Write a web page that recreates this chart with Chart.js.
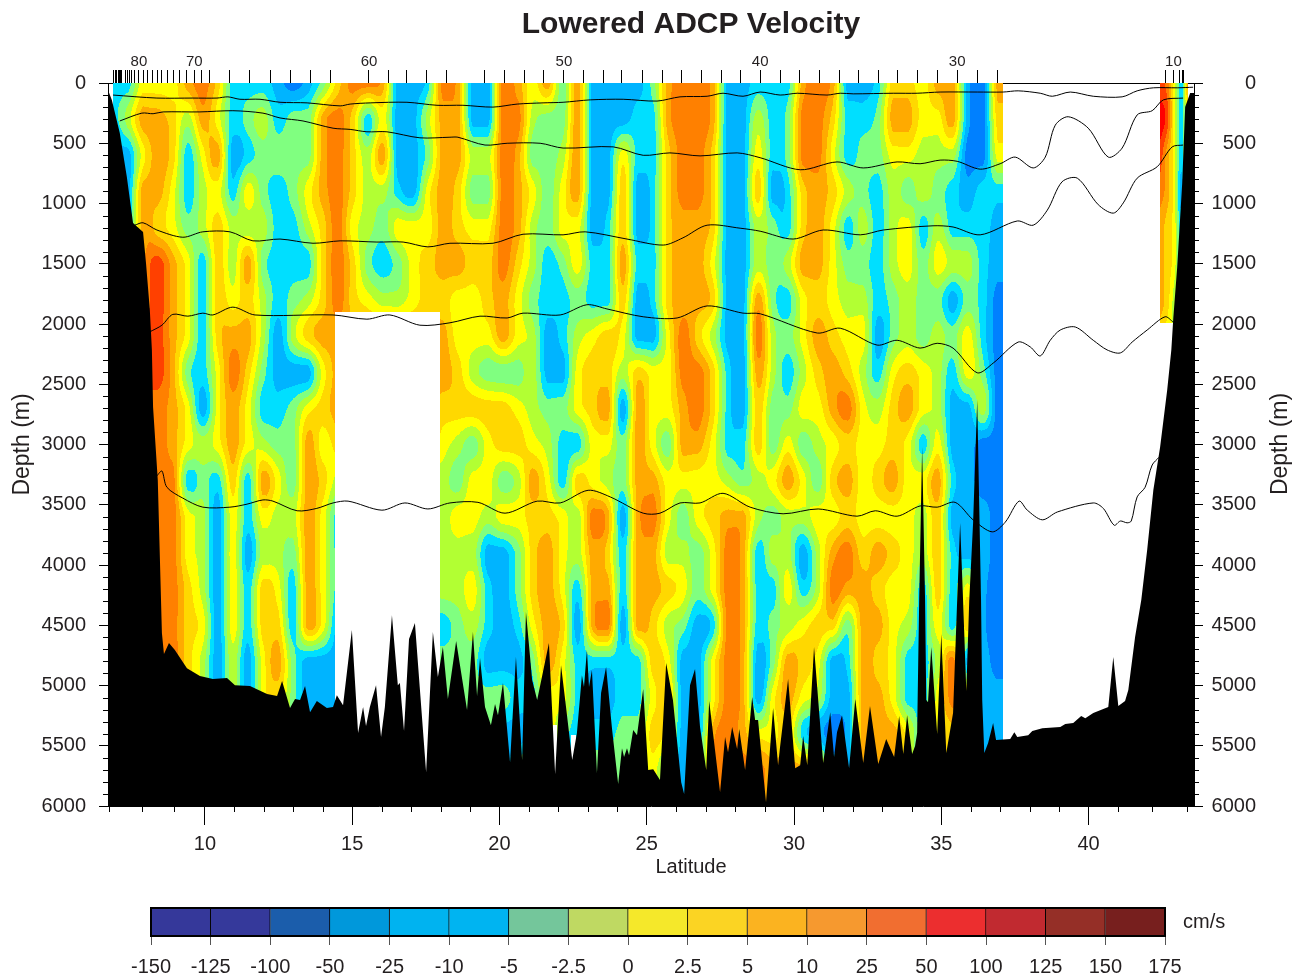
<!DOCTYPE html>
<html>
<head>
<meta charset="utf-8">
<title>Lowered ADCP Velocity</title>
<script src="https://cdn.jsdelivr.net/npm/chart.js@4"></script>
<style>
    body { margin: 0; background: #fff; }
    canvas { position: absolute; left: 0; }
    #sectionChart { top: 0; }
    #colorbarChart { top: 880px; }
</style>
</head>
<body>
<canvas id="sectionChart" width="1293" height="880"></canvas>
<canvas id="colorbarChart" width="1293" height="95"></canvas>
<script>
const fontFamily = '"Liberation Sans", Arial, sans-serif';
const textColor = '#231f20';

// Colour classes of the section, from deep blue (0) to red (10)
const bandColors = ['#0080ff', '#00b4ff', '#00dfff', '#80ff80', '#b2ff33', '#ffff00', '#ffd800', '#ffaa00', '#ff8000', '#ff4000', '#ff0000'];

// Velocity field, one class per cell
const fieldLats = [6.88, 7.39, 7.89, 8.40, 8.91, 9.42, 9.93, 10.44, 10.95, 11.46, 11.97, 12.48, 12.99, 13.50, 14.01, 14.52, 15.02, 15.53, 16.04, 16.55, 17.06, 17.57, 18.08, 18.59, 19.10, 19.61, 20.12, 20.63, 21.13, 21.64, 22.15, 22.66, 23.17, 23.68, 24.19, 24.70, 25.21, 25.72, 26.23, 26.74, 27.25, 27.76, 28.26, 28.77, 29.28, 29.79, 30.30, 30.81, 31.32, 31.83, 32.34, 32.85, 33.36, 33.87, 34.38, 34.89, 35.39, 35.90, 36.41, 36.92];
const fieldDepths = [0, 300, 600, 900, 1200, 1500, 1800, 2100, 2400, 2700, 3000, 3300, 3600, 3900, 4200, 4500, 4800, 5100, 5400, 5700, 6000];
const fieldRows = [
    [2,2,5,5,5,7,8,6,2,2, 2,1,0,1,3,6,8,8,7,1, 1,2,8,7,1,1,8,7,5,7, 3,7,1,1,1,1,3,7,8,8, 7,1,1,2,2,2,7,8,7,1, 1,2,6,6,5,7,7,1,0,7],
    [2,4,7,7,6,4,7,5,2,3, 4,2,3,3,7,8,6,2,5,1, 1,4,7,7,1,1,8,8,4,3, 3,7,1,1,1,2,2,7,8,8, 7,1,1,4,2,3,8,8,6,2, 2,3,7,7,5,5,7,1,0,6],
    [1,1,5,7,6,2,5,7,1,2, 3,3,3,3,7,8,6,4,7,1, 1,3,7,7,4,4,8,7,3,3, 4,7,1,1,5,2,2,6,8,8, 6,1,1,5,2,3,8,8,5,2, 3,3,5,5,4,4,4,0,0,5],
    [1,1,7,7,5,2,4,5,2,5, 3,2,3,5,7,8,6,4,4,2, 1,5,7,6,3,3,8,7,5,3, 5,7,1,1,6,1,2,6,8,8, 6,1,1,6,1,2,6,7,6,4, 3,2,4,3,4,3,2,1,2,2],
    [1,1,7,6,5,3,4,6,4,4, 4,2,2,4,6,8,5,4,3,5, 5,5,7,6,5,5,8,7,4,3, 5,5,1,2,6,1,2,6,7,7, 6,1,1,4,3,2,6,7,5,2, 4,2,4,5,2,4,2,2,2,1],
    [1,1,7,9,7,5,2,6,4,7, 3,2,2,2,6,8,6,3,2,3, 5,6,7,7,6,6,8,6,4,2, 3,5,2,2,7,2,2,6,7,7, 5,1,1,4,3,4,7,7,5,3, 3,2,4,5,3,5,4,4,2,1],
    [1,1,7,9,7,5,2,6,5,6, 4,2,3,4,6,8,6,5,4,4, 5,6,6,5,5,6,7,5,3,2, 2,3,2,2,6,1,2,6,7,7, 6,1,1,7,3,2,5,6,5,4, 4,2,3,4,3,3,1,3,2,0],
    [1,1,8,9,7,5,2,6,7,7, 4,1,4,6,7,7,7,7,7,7, 7,7,7,5,5,5,7,5,4,1, 2,4,5,6,5,1,1,5,8,6, 4,1,1,8,4,3,5,7,6,5, 5,1,3,4,3,4,3,5,2,0],
    [1,1,8,9,7,3,2,5,8,6, 3,1,1,1,5,7,7,7,7,7, 7,7,7,6,4,3,3,3,4,1, 1,5,6,6,4,6,5,5,8,8, 6,2,1,7,4,2,4,6,7,6, 4,2,5,6,5,4,2,5,3,0],
    [1,1,8,8,7,5,1,5,7,5, 2,2,3,5,6,7,7,7,7,7, 7,7,6,6,6,6,6,5,4,3, 3,5,6,7,1,7,5,5,7,8, 6,2,1,6,3,3,5,5,7,8, 5,4,6,7,5,4,1,1,4,0],
    [1,1,8,8,7,5,4,5,7,5, 4,3,3,7,5,6,6,6,6,6, 6,6,5,4,3,5,6,6,5,4, 2,2,5,5,3,7,5,3,7,7, 5,2,2,6,3,5,3,4,5,6, 5,5,6,5,2,5,1,1,0,0],
    [1,1,8,8,8,2,3,2,6,2, 7,5,3,7,6,4,4,4,4,4, 4,4,4,3,5,5,3,4,7,5, 2,6,5,4,3,7,7,5,5,5, 5,4,3,4,5,7,5,3,6,7, 5,6,7,5,5,7,2,1,0,0],
    [1,1,8,8,8,5,4,1,5,2, 5,4,4,7,5,2,3,3,3,4, 4,4,4,5,5,4,5,5,6,6, 5,4,8,7,1,7,8,5,3,5, 6,7,7,4,3,4,4,5,5,6, 5,5,5,5,4,6,1,1,1,0],
    [1,1,8,8,8,5,4,1,5,1, 4,4,3,7,5,2,2,2,3,3, 3,3,4,4,4,1,1,3,6,7, 5,4,7,6,2,7,7,4,4,3, 5,8,7,2,4,4,1,4,7,8, 6,7,6,5,4,6,2,1,1,0],
    [1,1,8,8,8,6,4,1,5,2, 6,5,2,7,5,2,2,2,2,2, 2,3,4,4,5,2,1,3,6,7, 5,2,7,7,2,7,7,6,5,3, 5,8,7,2,2,5,2,4,8,7, 7,6,5,5,2,6,2,5,1,0],
    [1,1,8,8,8,6,5,1,5,2, 6,6,2,7,5,1,1,1,1,2, 2,2,2,3,4,2,1,2,5,7, 6,1,7,8,1,7,6,4,3,1, 2,8,7,2,3,4,5,6,6,3, 7,7,5,4,2,5,2,6,1,0],
    [1,1,8,8,8,6,4,1,4,1, 5,7,3,1,1,1,1,1,1,2, 3,3,3,3,3,1,1,1,3,7, 5,2,2,2,2,2,6,5,1,1, 5,8,7,1,3,7,6,5,1,2, 7,6,5,2,2,4,8,1,1,0],
    [1,1,8,8,8,6,4,1,4,1, 5,6,3,1,1,1,1,1,1,2, 3,3,3,3,3,3,3,2,2,5, 5,2,1,1,2,2,5,6,1,1, 5,8,7,1,5,7,5,4,1,1, 7,7,5,2,2,5,8,6,1,1],
    [1,1,8,8,8,6,4,1,4,1, 5,6,3,1,1,1,1,1,1,2, 3,3,3,3,3,3,1,1,1,5, 3,2,2,2,3,3,6,5,1,1, 7,8,7,5,5,6,2,1,0,1, 7,7,7,5,2,5,6,5,1,1],
    [1,1,8,8,8,6,4,1,4,1, 5,6,3,1,1,1,1,1,1,2, 3,3,3,3,3,1,1,3,5,5, 2,3,3,3,3,3,5,2,1,1, 8,8,8,8,7,7,7,7,1,1, 7,7,7,5,2,5,6,5,1,1],
    [1,1,8,8,8,6,4,1,4,1, 5,6,3,1,1,1,1,1,1,2, 3,3,3,3,3,1,1,3,5,5, 2,3,3,3,3,3,5,2,1,1, 8,8,8,8,7,7,7,7,1,1, 7,7,7,5,2,5,6,5,1,1]
];
const fieldLatEnd = 37.10;

// Holes in the section (no stations)
const gapLatFrom = [14.42, 21.82, 22.43];
const gapLatTo = [17.98, 21.96, 22.60];
const gapDepthFrom = [1900, 5330, 5410];
const gapDepthTo = [6000, 5750, 5640];

// Short section next to the coast on the right
const stripLats = [42.43, 42.67, 42.91, 43.15, 43.38];
const stripDepths = [0, 300, 600, 900, 1200, 1500, 1800, 2100];
const stripRows = [
    [9, 8, 5, 2, 7],
    [10, 9, 5, 2, 5],
    [9, 7, 5, 2, 5],
    [8, 7, 5, 1, 5],
    [7, 6, 5, 2, 5],
    [7, 6, 5, 2, 5],
    [7, 6, 4, 2, 4],
    [6, 5, 4, 3, 4]
];
const stripDepthEnd = 1992;

// Sea floor
const bottomLats = [
    6.71, 6.84, 7.11, 7.35, 7.56, 7.90, 8.00, 8.13, 8.20, 8.24,
    8.40, 8.54, 8.61, 8.78, 8.98, 9.39, 9.83, 10.27, 10.75, 11.02,
    11.53, 12.11, 12.45, 12.62, 12.89, 13.06, 13.23, 13.40, 13.57, 13.80,
    14.14, 14.35, 14.48, 14.69, 14.99, 15.20, 15.37, 15.47, 15.60, 15.81,
    15.98, 16.11, 16.35, 16.55, 16.62, 16.76, 16.93, 17.13, 17.51, 17.74,
    17.91, 18.08, 18.25, 18.53, 18.90, 19.10, 19.24, 19.34, 19.51, 19.71,
    19.85, 19.95, 20.12, 20.36, 20.56, 20.77, 20.90, 21.11, 21.28, 21.68,
    21.89, 22.09, 22.26, 22.47, 22.63, 22.80, 22.87, 22.97, 23.04, 23.14,
    23.31, 23.45, 23.62, 23.82, 24.03, 24.16, 24.23, 24.33, 24.40, 24.54,
    24.67, 24.88, 25.05, 25.22, 25.45, 25.66, 25.89, 26.17, 26.27, 26.47,
    26.64, 26.81, 27.02, 27.12, 27.49, 27.66, 27.76, 27.90, 28.07, 28.14,
    28.34, 28.58, 28.68, 28.78, 29.05, 29.29, 29.46, 29.53, 29.80, 30.04,
    30.21, 30.31, 30.45, 30.68, 30.99, 31.23, 31.36, 31.46, 31.63, 31.87,
    32.08, 32.35, 32.58, 32.86, 33.13, 33.40, 33.57, 33.71, 33.84, 34.01,
    34.11, 34.18, 34.25, 34.35, 34.45, 34.49, 34.55, 34.66, 34.86, 35.00,
    35.17, 35.40, 35.54, 35.64, 35.74, 35.85, 35.95, 36.08, 36.22, 36.35,
    36.39, 36.46, 36.59, 36.76, 36.86, 37.34, 37.48, 37.58, 37.95, 38.09,
    38.43, 39.04, 39.21, 39.48, 39.75, 39.89, 40.16, 40.67, 40.84, 41.01,
    41.24, 41.35, 41.58, 41.79, 41.99, 42.20, 42.43, 42.67, 42.81, 42.88,
    43.01, 43.18, 43.28, 43.45, 43.58
];
const bottomDepths = [
    58, 141, 415, 780, 1162, 1237, 1494, 1884, 2216, 2689,
    3295, 4565, 4739, 4648, 4706, 4856, 4922, 4947, 4938, 4997,
    5005, 5071, 5088, 4963, 5187, 5113, 5121, 5005, 5221, 5129,
    5187, 5179, 5080, 5163, 4540, 5395, 5179, 5337, 5179, 4997,
    5428, 5179, 4416, 4997, 4980, 5378, 4615, 4482, 5719, 4557,
    4930, 4681, 5113, 4631, 5204, 4557, 5088, 4772, 5179, 5329,
    5154, 5246, 4980, 5636, 4764, 5619, 4391, 4955, 5121, 4648,
    5735, 4831, 5179, 5619, 5395, 4914, 5013, 4706, 5013, 4872,
    5727, 5063, 4847, 5354, 5818, 5520, 5594, 5520, 5578, 5370,
    5412, 5030, 5702, 5694, 5785, 4814, 5121, 5802, 5901, 4997,
    4864, 5345, 5702, 5129, 5885, 5428, 5553, 5345, 5528, 5362,
    5702, 5096, 5287, 5287, 5968, 5187, 5661, 5503, 4947, 5686,
    5661, 5420, 5661, 4681, 5644, 5221, 5594, 5387, 5246, 5686,
    5113, 5644, 5171, 5652, 5445, 5594, 5254, 5569, 5246, 5569,
    5503, 5395, 4291, 3021, 4291, 5121, 5138, 4681, 5403, 4573,
    5561, 5229, 4291, 3652, 4291, 5046, 4291, 3652, 2631, 4291,
    5121, 5561, 5478, 5312, 5453, 5445, 5387, 5428, 5412, 5378,
    5354, 5345, 5320, 5312, 5254, 5271, 5229, 5179, 4764, 5171,
    5129, 5038, 4598, 4291, 3876, 3378, 3021, 2548, 2216, 1942,
    1527, 830, 199, 83, 83
];

// Density surfaces, left to right, top to bottom
const lineALats = [6.88, 8.37, 9.59, 10.41, 10.78, 11.19, 11.87, 12.55, 13.47, 14.59, 14.93, 15.61, 16.86, 17.88, 18.76, 19.78, 20.60, 21.48, 22.16, 23.08, 24.20, 25.35, 26.13, 27.05, 27.59, 28.27, 28.85, 29.53, 30.11, 31.12, 31.57, 32.01, 33.37, 34.18, 34.96, 36.22, 37.10, 37.61, 38.36, 38.77, 39.38, 40.16, 41.14, 41.65, 42.20, 43.01, 43.55];
const lineADepths = [100, 125, 125, 125, 115, 135, 135, 160, 165, 190, 175, 165, 160, 185, 185, 200, 175, 165, 160, 140, 135, 150, 115, 110, 85, 110, 75, 100, 85, 100, 85, 90, 85, 85, 75, 75, 75, 65, 85, 110, 75, 110, 115, 65, 40, 40, 35];
const lineBLats = [7.11, 7.86, 8.24, 8.58, 9.83, 10.95, 11.97, 12.55, 13.33, 14.35, 14.93, 15.50, 16.18, 17.30, 18.32, 18.59, 19.51, 20.26, 21.38, 22.16, 23.86, 24.88, 25.79, 26.81, 28.07, 28.85, 30.21, 31.46, 32.35, 33.50, 34.28, 34.96, 35.54, 36.32, 37.00, 37.51, 38.12, 38.53, 38.87, 39.31, 39.99, 40.67, 41.14, 41.65, 42.16, 42.54, 43.21];
const lineBDepths = [315, 250, 255, 240, 240, 230, 250, 290, 315, 375, 385, 405, 405, 455, 450, 450, 515, 500, 500, 540, 530, 600, 580, 605, 580, 620, 720, 655, 705, 655, 670, 640, 650, 715, 670, 615, 705, 615, 350, 280, 375, 615, 540, 265, 230, 140, 125];
const lineCLats = [7.62, 7.90, 8.37, 9.25, 9.93, 10.85, 11.63, 12.55, 13.67, 14.59, 15.84, 16.73, 17.57, 18.32, 19.78, 20.80, 22.16, 22.91, 24.33, 25.56, 26.23, 27.05, 28.17, 28.85, 29.97, 30.99, 32.25, 33.03, 34.72, 35.40, 36.32, 37.58, 38.12, 38.60, 39.10, 39.62, 40.33, 40.84, 41.18, 41.65, 42.33, 42.84, 43.21];
const lineCDepths = [1180, 1160, 1220, 1280, 1235, 1235, 1310, 1295, 1330, 1310, 1320, 1320, 1360, 1330, 1330, 1255, 1260, 1235, 1295, 1345, 1285, 1180, 1205, 1230, 1295, 1220, 1260, 1220, 1185, 1195, 1260, 1145, 1180, 1055, 820, 790, 1010, 1080, 995, 790, 695, 530, 515];
const lineDLats = [8.13, 8.54, 8.91, 9.42, 9.93, 10.27, 10.95, 11.70, 14.35, 15.50, 16.28, 17.30, 18.32, 19.34, 20.26, 20.80, 22.06, 22.97, 23.65, 24.88, 26.03, 27.05, 28.27, 28.85, 30.79, 31.57, 32.82, 33.50, 34.28, 34.86, 35.40, 36.22, 36.76, 37.61, 38.02, 38.36, 38.70, 39.04, 39.55, 40.16, 40.63, 41.08, 41.48, 41.99, 42.60, 42.88];
const lineDDepths = [2065, 2010, 1920, 1935, 1910, 1925, 1860, 1925, 1925, 1960, 1925, 2010, 1990, 1935, 1950, 1910, 1925, 1840, 1875, 1940, 1950, 1850, 1910, 1915, 2075, 2035, 2175, 2135, 2200, 2160, 2200, 2405, 2325, 2150, 2190, 2265, 2135, 2050, 2025, 2135, 2215, 2240, 2150, 2050, 1940, 1985];
const lineELats = [8.37, 8.54, 8.71, 9.25, 9.93, 10.85, 11.43, 11.97, 12.31, 13.13, 13.80, 14.35, 14.86, 16.01, 16.79, 17.57, 18.32, 19.27, 20.19, 21.28, 22.06, 23.01, 23.76, 24.88, 25.45, 26.13, 26.81, 27.59, 28.51, 29.63, 30.82, 32.14, 32.76, 33.50, 34.28, 34.86, 35.47, 36.08, 36.73, 37.17, 37.64, 37.92, 38.43, 38.94, 40.16, 40.50, 40.87, 41.08, 41.31, 41.45, 41.65, 41.92, 42.16, 42.40];
const lineEDepths = [3260, 3220, 3355, 3445, 3520, 3520, 3495, 3460, 3470, 3550, 3530, 3485, 3470, 3545, 3485, 3535, 3485, 3480, 3570, 3470, 3485, 3380, 3435, 3570, 3570, 3485, 3485, 3405, 3520, 3575, 3535, 3595, 3550, 3595, 3510, 3520, 3480, 3625, 3725, 3645, 3470, 3545, 3625, 3560, 3485, 3530, 3670, 3635, 3650, 3635, 3435, 3355, 3170, 3105];

// Axis ticks
const latTicks = [10, 15, 20, 25, 30, 35, 40];
const latMinorTicks = [6.74, 7.86, 8.95, 11, 12, 13, 14, 16, 17, 18, 19, 21, 22, 23, 24, 26, 27, 28, 29, 31, 32, 33, 34, 36, 37, 38, 39, 41, 42.17, 43.33];
const castTicks = [6.91, 6.96, 7.00, 7.05, 7.09, 7.14, 7.18, 7.30, 7.36, 7.43, 7.50, 7.62, 7.76, 7.91, 8.06, 8.23, 8.38, 8.54, 8.72, 8.93, 9.15, 9.38, 9.64, 9.89, 10.15, 10.85, 11.53, 12.21, 12.89, 13.57, 14.25, 15.57, 16.22, 16.86, 17.54, 18.19, 19.48, 20.16, 20.84, 21.51, 22.19, 22.84, 23.52, 24.16, 24.84, 25.52, 26.17, 26.85, 27.53, 28.20, 28.85, 29.53, 30.17, 30.85, 31.53, 32.18, 32.86, 33.50, 34.18, 34.86, 35.54, 36.22, 36.90, 42.60, 42.88, 43.08, 43.18, 43.21];
const castLabelLats = [7.76, 9.64, 15.57, 22.19, 28.85, 35.54, 42.88];
const castLabels = ['80', '70', '60', '50', '40', '30', '10'];

// Colorbar
const barLabels = ['-150', '-125', '-100', '-50', '-25', '-10', '-5', '-2.5', '0', '2.5', '5', '10', '25', '50', '100', '125', '150', '175'];
const barColors = ['#35389a', '#35399b', '#1b5dab', '#0098db', '#00b3f0', '#00b4f1', '#74c69b', '#bfd962', '#f5e82a', '#fbd423', '#fbb320', '#f6992f', '#f16e30', '#ec2e2f', '#c12a30', '#952f27', '#771f1e'];

function toPoints(lats, depths) {
    return lats.map((lat, i) => ({ x: lat, y: depths[i] }));
}

function hexToRgb(hex) {
    return [1, 3, 5].map(i => parseInt(hex.slice(i, i + 2), 16));
}

// Finds the cell a value falls in, for an ascending list
function locate(list, value) {
    let i = 0;
    while (i < list.length - 2 && value > list[i + 1]) i++;
    const t = (value - list[i]) / (list[i + 1] - list[i]);
    return { i, t: Math.min(1, Math.max(0, t)) };
}

// Smooth between b and c, without going past them
function cubic(a, b, c, d, t) {
    const v = b + 0.5 * t * (c - a + t * (2 * a - 5 * b + 4 * c - d + t * (3 * (b - c) + d - a)));
    return Math.min(Math.max(b, c), Math.max(Math.min(b, c), v));
}

function paintGrid(image, area, xScale, yScale, lats, depths, rows, bounds, rgb) {
    const colCells = [];
    for (let px = 0; px < area.width; px++) {
        const lat = xScale.getValueForPixel(area.left + px + 0.5);
        colCells.push(lat < bounds.latMin || lat > bounds.latMax ? null : Object.assign({ lat }, locate(lats, lat)));
    }
    for (let py = 0; py < area.height; py++) {
        const depth = yScale.getValueForPixel(area.top + py + 0.5);
        if (depth > bounds.depthMax) continue;
        const rowCell = locate(depths, depth);
        const r0 = rows[Math.max(0, rowCell.i - 1)];
        const r1 = rows[rowCell.i];
        const r2 = rows[rowCell.i + 1];
        const r3 = rows[Math.min(rows.length - 1, rowCell.i + 2)];
        for (let px = 0; px < area.width; px++) {
            const cell = colCells[px];
            if (!cell) continue;
            let skip = false;
            for (let g = 0; g < gapLatFrom.length; g++) {
                if (cell.lat >= gapLatFrom[g] && cell.lat <= gapLatTo[g] && depth >= gapDepthFrom[g] && depth <= gapDepthTo[g]) skip = true;
            }
            if (skip) continue;
            const c0 = Math.max(0, cell.i - 1), c1 = cell.i, c2 = cell.i + 1, c3 = Math.min(lats.length - 1, cell.i + 2);
            const v0 = cubic(r0[c0], r0[c1], r0[c2], r0[c3], cell.t);
            const v1 = cubic(r1[c0], r1[c1], r1[c2], r1[c3], cell.t);
            const v2 = cubic(r2[c0], r2[c1], r2[c2], r2[c3], cell.t);
            const v3 = cubic(r3[c0], r3[c1], r3[c2], r3[c3], cell.t);
            const v = cubic(v0, v1, v2, v3, rowCell.t);
            const band = Math.min(bandColors.length - 1, Math.max(0, Math.round(v)));
            const p = (py * area.width + px) * 4;
            image.data[p] = rgb[band][0];
            image.data[p + 1] = rgb[band][1];
            image.data[p + 2] = rgb[band][2];
            image.data[p + 3] = 255;
        }
    }
}

// Contour field under the datasets, placed through the chart's own scales
const fieldPlugin = {
    id: 'field',
    beforeDatasetsDraw(chart) {
        const area = chart.chartArea;
        const box = { left: Math.round(area.left), top: Math.round(area.top), width: Math.round(area.width), height: Math.round(area.height) };
        const layer = document.createElement('canvas');
        layer.width = box.width;
        layer.height = box.height;
        const layerCtx = layer.getContext('2d');
        const image = layerCtx.createImageData(box.width, box.height);
        const rgb = bandColors.map(hexToRgb);
        paintGrid(image, box, chart.scales.x, chart.scales.y, fieldLats, fieldDepths, fieldRows,
            { latMin: fieldLats[0], latMax: fieldLatEnd, depthMax: 6000 }, rgb);
        paintGrid(image, box, chart.scales.x, chart.scales.y, stripLats, stripDepths, stripRows,
            { latMin: stripLats[0], latMax: stripLats[stripLats.length - 1], depthMax: stripDepthEnd }, rgb);
        layerCtx.putImageData(image, 0, 0);
        chart.ctx.save();
        chart.ctx.filter = 'blur(0.5px)';
        chart.ctx.drawImage(layer, box.left, box.top);
        chart.ctx.restore();
    }
};

// Short ticks, the second axis labels, and the title offset
const sectionDecor = {
    id: 'sectionDecor',
    afterLayout(chart) {
        chart.titleBlock.left += 63;
        chart.titleBlock.right += 63;
    },
    afterDraw(chart) {
        const ctx = chart.ctx;
        const area = chart.chartArea;
        ctx.save();
        ctx.strokeStyle = '#000';
        ctx.lineWidth = 1;
        ctx.beginPath();
        latMinorTicks.forEach(lat => {
            const px = Math.round(chart.scales.x.getPixelForValue(lat)) + 0.5;
            ctx.moveTo(px, area.bottom);
            ctx.lineTo(px, area.bottom + 6);
        });
        for (let depth = 100; depth < 6000; depth += 100) {
            if (depth % 500 === 0) continue;
            const py = Math.round(chart.scales.y.getPixelForValue(depth)) + 0.5;
            ctx.moveTo(area.left - 5, py);
            ctx.lineTo(area.left, py);
            ctx.moveTo(area.right, py);
            ctx.lineTo(area.right + 5, py);
        }
        ctx.stroke();

        ctx.fillStyle = textColor;
        ctx.textAlign = 'center';
        ctx.textBaseline = 'middle';
        ctx.font = '20px ' + fontFamily;
        ctx.fillText('Latitude', 691, 867);
        ctx.font = '23px ' + fontFamily;
        ctx.translate(1281, 444);
        ctx.rotate(-Math.PI / 2);
        ctx.fillText('Depth (m)', 0, 0);
        ctx.restore();
    }
};

const lineStyle = { showLine: true, pointRadius: 0, borderColor: '#000', borderWidth: 1, tension: 0.3, fill: false, order: 1 };

new Chart(document.getElementById('sectionChart'), {
    type: 'scatter',
    data: {
        datasets: [
            Object.assign({ label: 'Density A', data: toPoints(lineALats, lineADepths) }, lineStyle),
            Object.assign({ label: 'Density B', data: toPoints(lineBLats, lineBDepths) }, lineStyle),
            Object.assign({ label: 'Density C', data: toPoints(lineCLats, lineCDepths) }, lineStyle),
            Object.assign({ label: 'Density D', data: toPoints(lineDLats, lineDDepths) }, lineStyle),
            Object.assign({ label: 'Density E', data: toPoints(lineELats, lineEDepths) }, lineStyle),
            {
                label: 'Bottom',
                data: toPoints(bottomLats, bottomDepths),
                showLine: true,
                pointRadius: 0,
                borderWidth: 0,
                borderColor: '#000',
                backgroundColor: '#000',
                fill: { value: 6000 },
                order: 2
            }
        ]
    },
    options: {
        responsive: false,
        animation: false,
        events: [],
        layout: { padding: { right: 37 } },
        plugins: {
            legend: { display: false },
            tooltip: { enabled: false },
            title: {
                display: true,
                text: 'Lowered ADCP Velocity',
                color: textColor,
                font: { family: fontFamily, size: 30, weight: 'bold', lineHeight: 1.2 },
                padding: { top: 7, bottom: 7 }
            }
        },
        scales: {
            x: {
                type: 'linear',
                position: 'bottom',
                min: 6.71,
                max: 43.58,
                afterBuildTicks: scale => { scale.ticks = latTicks.map(value => ({ value })); },
                afterFit: scale => { scale.height = 74; },
                grid: { drawOnChartArea: false, tickLength: 19, color: '#000' },
                border: { color: '#000' },
                ticks: { color: textColor, font: { family: fontFamily, size: 20 }, padding: 7, maxRotation: 0, autoSkip: false }
            },
            xTop: {
                type: 'linear',
                position: 'top',
                min: 6.71,
                max: 43.58,
                afterBuildTicks: scale => { scale.ticks = castTicks.map(value => ({ value })); },
                afterFit: scale => { scale.height = 33; },
                grid: { drawOnChartArea: false, tickLength: 13, color: '#000' },
                border: { color: '#000' },
                ticks: {
                    color: textColor,
                    font: { family: fontFamily, size: 15 },
                    padding: -1,
                    maxRotation: 0,
                    autoSkip: false,
                    callback: value => {
                        const at = castLabelLats.indexOf(value);
                        return at < 0 ? '' : castLabels[at];
                    }
                }
            },
            y: {
                type: 'linear',
                position: 'left',
                reverse: true,
                min: 0,
                max: 6000,
                afterFit: scale => { scale.width = 108; },
                grid: { drawOnChartArea: false, tickLength: 9, color: '#000' },
                border: { color: '#000' },
                title: { display: true, text: 'Depth (m)', color: textColor, font: { family: fontFamily, size: 23, lineHeight: 1.2 }, padding: { top: 9, bottom: 0 } },
                ticks: { stepSize: 500, color: textColor, font: { family: fontFamily, size: 20 }, padding: 13, callback: value => String(value) }
            },
            yRight: {
                type: 'linear',
                position: 'right',
                reverse: true,
                min: 0,
                max: 6000,
                afterFit: scale => { scale.width = 62; },
                grid: { drawOnChartArea: false, tickLength: 9, color: '#000' },
                border: { color: '#000' },
                ticks: { stepSize: 500, color: textColor, font: { family: fontFamily, size: 20 }, padding: 9, crossAlign: 'far', callback: value => String(value) }
            }
        }
    },
    plugins: [fieldPlugin, sectionDecor]
});

// Frame and unit of the colorbar
const colorbarDecor = {
    id: 'colorbarDecor',
    afterDraw(chart) {
        const ctx = chart.ctx;
        const area = chart.chartArea;
        ctx.save();
        ctx.strokeStyle = '#000';
        ctx.lineWidth = 2;
        ctx.strokeRect(area.left, area.top, area.right - area.left, area.bottom - area.top);
        ctx.fillStyle = textColor;
        ctx.font = '20px ' + fontFamily;
        ctx.textBaseline = 'middle';
        ctx.fillText('cm/s', 1183, 42);
        ctx.restore();
    }
};

new Chart(document.getElementById('colorbarChart'), {
    type: 'bar',
    data: {
        labels: ['cm/s'],
        datasets: barColors.map((color, i) => ({
            label: barLabels[i],
            data: [[i, i + 1]],
            backgroundColor: color,
            borderColor: '#000',
            borderWidth: 1,
            grouped: false,
            barPercentage: 1,
            categoryPercentage: 1
        }))
    },
    options: {
        indexAxis: 'y',
        responsive: false,
        animation: false,
        events: [],
        layout: { padding: { left: 151, right: 128, top: 28 } },
        plugins: { legend: { display: false }, tooltip: { enabled: false } },
        scales: {
            x: {
                type: 'linear',
                min: 0,
                max: barColors.length,
                afterFit: scale => { scale.height = 39; },
                grid: { drawOnChartArea: false, tickLength: 9, color: '#555' },
                border: { display: false },
                ticks: {
                    stepSize: 1,
                    autoSkip: false,
                    maxRotation: 0,
                    color: textColor,
                    font: { family: fontFamily, size: 20 },
                    padding: 10,
                    callback: value => barLabels[value]
                }
            },
            y: { display: false }
        }
    },
    plugins: [colorbarDecor]
});
</script>
</body>
</html>
